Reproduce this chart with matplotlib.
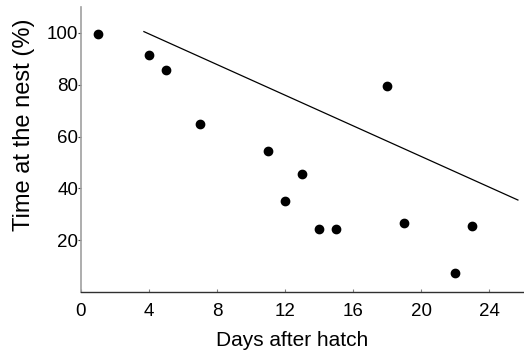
import matplotlib
matplotlib.use("Agg")
import matplotlib.pyplot as plt

plt.rcParams['font.family'] = ['Liberation Sans', 'DejaVu Sans']

days = [1, 4, 5, 7, 11, 12, 13, 14, 15, 18, 19, 22, 23]
time_pct = [99.5, 91.5, 85.5, 65, 54.5, 35, 45.5, 24.5, 24.5, 79.5, 26.5, 7.5, 25.5]
fit_x = [3.7, 25.7]
fit_y = [100.5, 35.5]
xticks = [0, 4, 8, 12, 16, 20, 24]
yticks = [20, 40, 60, 80, 100]

fig = plt.figure(figsize=(5.24, 3.56), dpi=100)
ax = fig.add_axes([81/524, 1-292/356, (523-81)/524, (292-7)/356])
ax.plot(fit_x, fit_y, color='black', lw=0.9)
ax.plot(days, time_pct, 'o', color='black', markersize=6.0, mec='black')
ax.set_xlim(0, 26)
ax.set_ylim(0, 110)
ax.set_xticks(xticks)
ax.set_yticks(yticks)
for s in ['top', 'right']:
    ax.spines[s].set_visible(False)
ax.spines['left'].set_color('#a0a0a0')
ax.spines['left'].set_linewidth(1.2)
ax.spines['bottom'].set_color('#303030')
ax.spines['bottom'].set_linewidth(1.0)
ax.tick_params(axis='x', direction='in', length=2, width=0.8, color='#808080', labelsize=13.5, pad=8)
ax.tick_params(axis='y', direction='out', length=2, width=0.8, color='#404040', labelsize=13.5, pad=0)
ax.set_xlabel('Days after hatch', fontsize=15, labelpad=6)
ax.xaxis.set_label_coords((292.5-81)/442, -(340-292)/285, transform=ax.transAxes)
ax.xaxis.label.set_va('center')
ax.set_ylabel('Time at the nest (%)', fontsize=17)
ax.yaxis.set_label_coords(-(81-24)/442, (292-125)/285, transform=ax.transAxes)
ax.yaxis.label.set_va('center')
fig.savefig('out.png', dpi=100)
